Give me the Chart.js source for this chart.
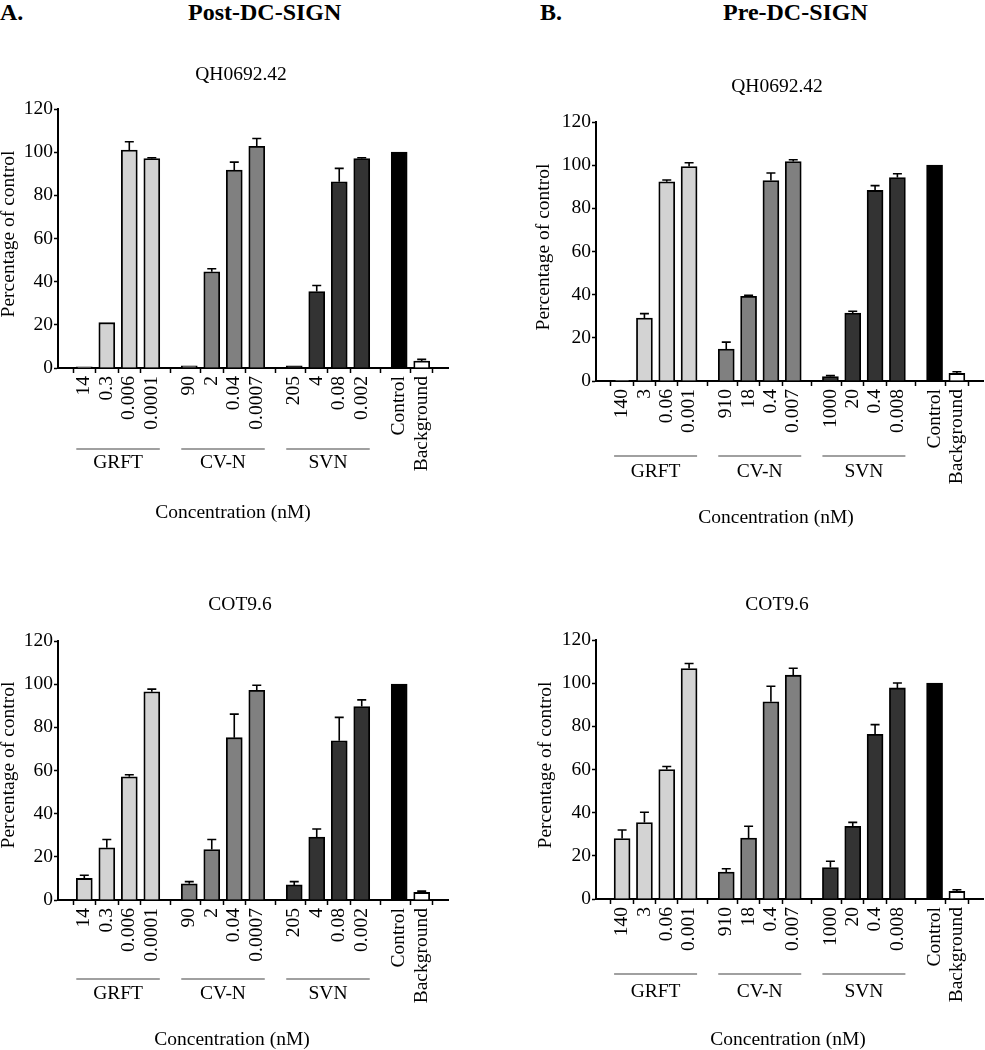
<!DOCTYPE html>
<html lang="en">
<head>
  <meta charset="UTF-8" />
  <title>Post- and Pre-DC-SIGN inhibition</title>
  <style>
    html, body {
      margin: 0;
      overflow: hidden;
    }
    body {
      width: 985px;
      height: 1050px;
      position: relative;
      background: #fff;
      color: #000;
      font-family: 'Liberation Serif', 'Times New Roman', serif;
    }
    .head {
      position: absolute;
      top: 0;
      font-weight: bold;
      font-size: 24px;
      line-height: 24px;
    }
    .box { position: absolute; }
  </style>
</head>
<body>
  <div class="head" style="left:0">A.</div>
  <div class="head" style="left:188px">Post-DC-SIGN</div>
  <div class="head" style="left:540px">B.</div>
  <div class="head" style="left:723px">Pre-DC-SIGN</div>

  <div class="box" style="left:0;top:40px;width:490px;height:500px"><canvas id="aTop"></canvas></div>
  <div class="box" style="left:490px;top:40px;width:495px;height:500px"><canvas id="bTop"></canvas></div>
  <div class="box" style="left:0;top:560px;width:490px;height:490px"><canvas id="aBottom"></canvas></div>
  <div class="box" style="left:490px;top:560px;width:495px;height:490px"><canvas id="bBottom"></canvas></div>

  <script src="https://cdn.jsdelivr.net/npm/chart.js"></script>
  <script>
    // inhibitors and their concentrations (nM)
    const groups = ['GRFT', 'CV-N', 'SVN'];
    const postConc = [['14', '0.3', '0.006', '0.0001'], ['90', '2', '0.04', '0.0007'], ['205', '4', '0.08', '0.002']];
    const preConc = [['140', '3', '0.06', '0.001'], ['910', '18', '0.4', '0.007'], ['1000', '20', '0.4', '0.008']];
    const controlLabels = ['Control', 'Background'];

    // percentage of control (mean) and upper error
    const postQH = [0.5, 21, 101, 97, 1, 44.6, 91.7, 102.7, 1, 35.4, 86.3, 97, 100, 3.2];
    const postQHErr = [0, 0, 3.8, 0.4, 0, 1.4, 3.7, 3.6, 0, 2.8, 6.2, 0.4, 0, 0.8];
    const preQH = [0.3, 29.2, 92.3, 99.4, 14.8, 39.2, 92.9, 101.7, 2, 31.5, 88.3, 94.3, 100, 3.5];
    const preQHErr = [0, 2, 0.8, 1.7, 3.2, 0.5, 3.5, 0.8, 0.5, 0.8, 2.2, 1.7, 0, 0.8];
    const postCOT = [10, 24.2, 57.1, 96.5, 7.5, 23.4, 75.2, 97.2, 7, 29.2, 73.8, 89.6, 100, 3.5];
    const postCOTErr = [1.5, 3.8, 0.9, 1.2, 1, 4.6, 10.9, 2.3, 1.5, 3.7, 10.8, 3.1, 0, 0.6];
    const preCOT = [28, 35.4, 60, 106.8, 12.5, 28.2, 91.4, 103.7, 14.6, 33.7, 76.3, 97.8, 100, 3.5];
    const preCOTErr = [4, 4.8, 1.4, 2.3, 1.5, 5.5, 7.2, 3.2, 2.9, 1.8, 4.5, 2.3, 0, 0.8];

    const groupColors = ['#d3d3d3', '#808080', '#333333'];
    const controlColors = ['#000000', '#ffffff'];

    const FONT = { family: "'Liberation Serif', 'Times New Roman', serif", size: 19.5 };
    const FONT_CSS = "19.5px 'Liberation Serif', 'Times New Roman', serif";
    const GAP = 0.665;   // extra space between groups, in bar slots
    const BAR = 16;

    // slot index of every bar on the x scale
    function slots() {
      const pos = [];
      groups.forEach((g, gi) => {
        for (let i = 0; i < 4; i++) pos.push(gi * (4 + GAP) + i);
      });
      const ctl = pos[pos.length - 1] + 1 + GAP;
      pos.push(ctl, ctl + 1);
      return pos;
    }

    // titles, group brackets, axis titles
    const decorations = {
      id: 'decorations',
      afterDraw(chart, args, o) {
        const ctx = chart.ctx;
        const xs = chart.scales.x;
        const base = chart.scales.y.getPixelForValue(0);
        const ox = o.box.left, oy = o.box.top;
        ctx.save();
        ctx.fillStyle = '#000';
        ctx.font = FONT_CSS;
        ctx.textAlign = 'center';
        ctx.textBaseline = 'middle';
        ctx.fillText(o.title, o.titleX - ox, o.titleY - oy);
        ctx.fillText('Concentration (nM)', o.concX - ox, o.concY - oy);

        groups.forEach((g, gi) => {
          const x0 = xs.getPixelForValue(o.pos[gi * 4]) - BAR / 2;
          const x1 = xs.getPixelForValue(o.pos[gi * 4 + 3]) + BAR / 2;
          ctx.strokeStyle = '#808080';
          ctx.lineWidth = 1.3;
          ctx.beginPath();
          ctx.moveTo(x0, base + o.lineOff);
          ctx.lineTo(x1, base + o.lineOff);
          ctx.stroke();
          ctx.fillText(g, (x0 + x1) / 2, base + o.labelOff);
        });

        ctx.translate(o.yTitleX - ox, o.yTitleY - oy);
        ctx.rotate(-Math.PI / 2);
        ctx.fillText('Percentage of control', 0, 0);
        ctx.restore();
      },
      afterDatasetsDraw(chart, args, o) {
        const ctx = chart.ctx;
        const ys = chart.scales.y;
        const meta = chart.getDatasetMeta(0);
        ctx.save();
        ctx.strokeStyle = '#000';
        ctx.lineWidth = 1.6;
        meta.data.forEach((bar, i) => {
          const e = o.err[i];
          if (!e) return;
          const top = ys.getPixelForValue(o.values[i] + e);
          ctx.beginPath();
          ctx.moveTo(bar.x, bar.y);
          ctx.lineTo(bar.x, top);
          ctx.moveTo(bar.x - 4.5, top);
          ctx.lineTo(bar.x + 4.5, top);
          ctx.stroke();
        });
        ctx.restore();
      }
    };
    Chart.register(decorations);

    function drawPanel(id, p) {
      const pos = slots();
      const labels = p.conc.flat().concat(controlLabels);
      const colors = [];
      groupColors.forEach(c => { for (let i = 0; i < 4; i++) colors.push(c); });
      colors.push(...controlColors);

      new Chart(document.getElementById(id), {
        type: 'bar',
        data: {
          datasets: [{
            data: pos.map((x, i) => ({ x: x, y: p.values[i] })),
            backgroundColor: colors,
            borderColor: '#000',
            borderWidth: 1.8,
            barThickness: BAR
          }]
        },
        options: {
          responsive: true,
          maintainAspectRatio: false,
          animation: false,
          layout: {
            padding: {
              left: 0,
              top: p.plot.top - p.box.top,
              right: p.box.left + p.box.width - p.plot.right,
              bottom: 0
            }
          },
          plugins: {
            legend: { display: false },
            tooltip: { enabled: false },
            decorations: Object.assign({ pos: pos, values: p.values, err: p.err, box: p.box }, p.deco)
          },
          scales: {
            x: {
              type: 'linear',
              min: pos[0] - 0.55,
              max: pos[pos.length - 1] + 0.55,
              afterBuildTicks: s => { s.ticks = pos.map(v => ({ value: v })); },
              afterFit: s => { s.height = p.box.top + p.box.height - p.plot.bottom; },
              ticks: {
                callback: (v, i) => labels[i],
                autoSkip: false,
                minRotation: 90,
                maxRotation: 90,
                padding: 3,
                color: '#000',
                font: FONT
              },
              grid: { drawOnChartArea: false, tickLength: 5, tickColor: '#000', tickWidth: 1.5 },
              border: { color: '#000', width: 2 }
            },
            y: {
              min: 0,
              max: 120,
              afterFit: s => { s.width = p.plot.left - p.box.left; },
              ticks: { stepSize: 20, padding: 1, color: '#000', font: FONT },
              grid: { drawOnChartArea: false, tickLength: 4, tickColor: '#000', tickWidth: 1.5 },
              border: { color: '#000', width: 2 }
            }
          }
        }
      });
    }

    drawPanel('aTop', {
      conc: postConc, values: postQH, err: postQHErr,
      box: { left: 0, top: 40, width: 490, height: 500 },
      plot: { left: 58, right: 448, top: 109, bottom: 368 },
      deco: { title: 'QH0692.42', titleX: 241, titleY: 75, yTitleX: 9, yTitleY: 234,
              lineOff: 81, labelOff: 95, concX: 233, concY: 513 }
    });
    drawPanel('bTop', {
      conc: preConc, values: preQH, err: preQHErr,
      box: { left: 490, top: 40, width: 495, height: 500 },
      plot: { left: 596, right: 983, top: 122, bottom: 381 },
      deco: { title: 'QH0692.42', titleX: 777, titleY: 87, yTitleX: 544, yTitleY: 247,
              lineOff: 75, labelOff: 91, concX: 776, concY: 518 }
    });
    drawPanel('aBottom', {
      conc: postConc, values: postCOT, err: postCOTErr,
      box: { left: 0, top: 560, width: 490, height: 490 },
      plot: { left: 58, right: 448, top: 641, bottom: 900 },
      deco: { title: 'COT9.6', titleX: 240, titleY: 605, yTitleX: 9, yTitleY: 765,
              lineOff: 79, labelOff: 94, concX: 232, concY: 1040 }
    });
    drawPanel('bBottom', {
      conc: preConc, values: preCOT, err: preCOTErr,
      box: { left: 490, top: 560, width: 495, height: 490 },
      plot: { left: 596, right: 983, top: 640, bottom: 899 },
      deco: { title: 'COT9.6', titleX: 777, titleY: 605, yTitleX: 546, yTitleY: 765,
              lineOff: 75, labelOff: 93, concX: 788, concY: 1040 }
    });
  </script>
</body>
</html>
